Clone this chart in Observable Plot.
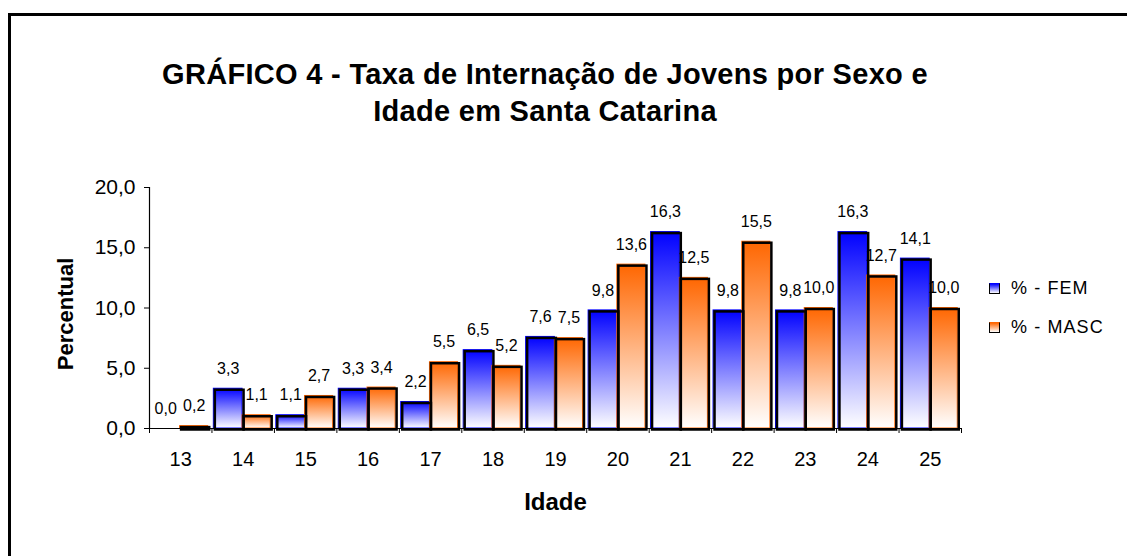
<!DOCTYPE html>
<html><head><meta charset="utf-8">
<script src="https://cdn.jsdelivr.net/npm/d3@7"></script>
<script src="https://cdn.jsdelivr.net/npm/@observablehq/plot@0.6"></script>
<style>
body{margin:0;background:#fff;font-family:"Liberation Sans",Arial,sans-serif;}
#wrap{position:relative;width:1127px;height:556px;overflow:hidden;background:#fff;}
#frame{position:absolute;left:8px;top:13px;width:1300px;height:700px;border-top:3px solid #000;border-left:3px solid #000;}
#title{position:absolute;left:0;width:1090px;top:56px;text-align:center;font-weight:bold;font-size:29px;letter-spacing:0.3px;line-height:37px;color:#000;}
#chart{position:absolute;left:0;top:150px;}
.leg{position:absolute;left:989px;font-size:18px;letter-spacing:1.1px;color:#000;display:flex;align-items:center;}
.sw{width:9px;height:9px;border:1.5px solid #000;margin-right:11px;}
</style>
</head><body>
<div id="wrap">
  <div id="frame"></div>
  <div id="title">GRÁFICO 4 - Taxa de Internação de Jovens por Sexo e<br>Idade em Santa Catarina</div>
  <div id="chart"></div>
  <div class="leg" style="top:278px"><div class="sw" style="background:linear-gradient(#0000ff,#ffffff);border-top-color:#0000ff"></div>% - FEM</div>
  <div class="leg" style="top:317px"><div class="sw" style="background:linear-gradient(#ff6600,#ffffff);border-top-color:#ff6600"></div>% - MASC</div>
</div>
<script>
const idades = [13, 14, 15, 16, 17, 18, 19, 20, 21, 22, 23, 24, 25];
const fem = [0.0, 3.3, 1.1, 3.3, 2.2, 6.5, 7.6, 9.8, 16.3, 9.8, 9.8, 16.3, 14.1];
const masc = [0.2, 1.1, 2.7, 3.4, 5.5, 5.2, 7.5, 13.6, 12.5, 15.5, 10.0, 12.7, 10.0];
const yTicks = [0, 5, 10, 15, 20];

const femData = idades.map((a, i) => ({idade: a, v: fem[i], x1: a - 0.47, x2: a - 0.01}));
const mascData = idades.map((a, i) => ({idade: a, v: masc[i], x1: a - 0.01, x2: a + 0.44}));
const bounds = [idades[0] - 0.5, ...idades.map(a => a + 0.5)];
const fmt = v => v.toFixed(1).replace(".", ",");

function defs() {
  const g = d3.create("svg:defs");
  [["gF", "#0000ff"], ["gM", "#ff6600"]].forEach(([id, c]) => {
    const lg = g.append("linearGradient").attr("id", id)
      .attr("x1", 0).attr("y1", 0).attr("x2", 0).attr("y2", 1);
    lg.append("stop").attr("offset", "0%").attr("stop-color", c);
    lg.append("stop").attr("offset", "100%").attr("stop-color", "#ffffff");
  });
  return g.node();
}

const chart = Plot.plot({
  width: 1127,
  height: 406,
  marginLeft: 149,
  marginRight: 166,
  marginTop: 37,
  marginBottom: 128,
  style: {fontFamily: "'Liberation Sans', Arial, sans-serif", color: "#000", background: "transparent"},
  x: {type: "linear", domain: [bounds[0], bounds[bounds.length - 1]]},
  y: {domain: [0, 20]},
  marks: [
    defs,
    Plot.rectY(femData, {x1: "x1", x2: "x2", y: "v", fill: "url(#gF)", stroke: "#0000ff", strokeWidth: 1}),
    Plot.rectY(mascData, {x1: "x1", x2: "x2", y: "v", fill: "url(#gM)", stroke: "#ff6600", strokeWidth: 1}),
    Plot.rectY(femData.filter(d => d.v > 0), {x1: "x1", x2: "x2", y: "v", fill: "none", stroke: "#000", strokeWidth: 2.5, dx: 1.5, dy: 1.5}),
    Plot.rectY(mascData.filter(d => d.v > 0), {x1: "x1", x2: "x2", y: "v", fill: "none", stroke: "#000", strokeWidth: 2.5, dx: 1.5, dy: 1.5}),
    Plot.ruleY([0], {stroke: "#000", strokeWidth: 1.2}),
    Plot.ruleX([bounds[0]], {stroke: "#000", strokeWidth: 1.2}),
    Plot.axisY({ticks: yTicks, tickFormat: fmt, tickSize: 5, tickPadding: 9, fontSize: 21, label: null, stroke: "#000", style: {letterSpacing: "0.5px"}}),
    Plot.axisX({ticks: bounds, tickFormat: () => "", tickSize: 5, label: null, stroke: "#000"}),
    Plot.axisX({ticks: idades, tickFormat: d => String(d), tickSize: 0, tickPadding: 23, fontSize: 20, label: null}),
    Plot.text(femData, {x: d => (d.x1 + d.x2) / 2, y: "v", text: d => fmt(d.v), dy: -20, fontSize: 16, fill: "#000", style: {letterSpacing: "-0.8px"}}),
    Plot.text(mascData, {x: d => (d.x1 + d.x2) / 2, y: "v", text: d => fmt(d.v), dy: -20, fontSize: 16, fill: "#000", style: {letterSpacing: "-0.8px"}}),
    Plot.text(["Percentual"], {frameAnchor: "left", textAnchor: "middle", lineAnchor: "middle", dx: -84, dy: 6, rotate: -90, fontSize: 22, fontWeight: "bold", fill: "#000"}),
    Plot.text(["Idade"], {frameAnchor: "bottom", lineAnchor: "middle", dy: 74, fontSize: 24, fontWeight: "bold", fill: "#000", style: {letterSpacing: "1.5px"}})
  ]
});
document.getElementById("chart").appendChild(chart);
</script>
</body></html>
